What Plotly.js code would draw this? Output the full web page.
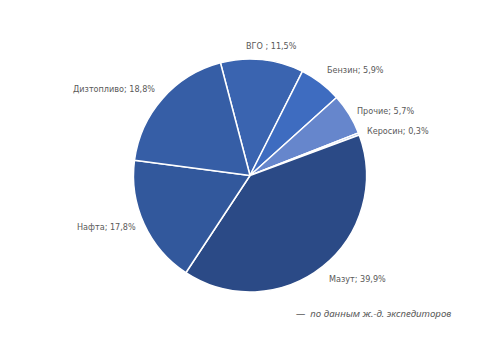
<!DOCTYPE html>
<html>
<head>
<meta charset="utf-8">
<script src="https://cdn.plot.ly/plotly-3.0.1.min.js"></script>
<style>html,body{margin:0;padding:0;background:#fff;}#chart{width:500px;height:353px;}</style>
</head>
<body>
<div id="chart"></div>
<script>
const categories = ["ВГО ", "Бензин", "Прочие", "Керосин", "Мазут", "Нафта", "Дизтопливо"];
const values = [11.5, 5.9, 5.7, 0.3, 39.9, 17.8, 18.8];
const valueLabels = ["11,5%", "5,9%", "5,7%", "0,3%", "39,9%", "17,8%", "18,8%"];
const colors = ["#3a64b0", "#3e6cc0", "#6686cc", "#a8bce6", "#2b4a86", "#32589c", "#365ea6"];
const source = "—  по данным ж.-д. экспедиторов";

// layout settings (not data)
const W = 500, H = 353;
const domX = [0.2, 0.8], domY = [0.1728, 0.8329];
const rotation = -14.7;
const labelGap = 7;
const labelTweak = [{xshift: 9}, {}, {}, {}, {}, {}, {yshift: -2}];
const textFont = {family: "DejaVu Sans Condensed, DejaVu Sans", size: 9, color: "#595959"};

const trace = {
  type: "pie",
  labels: categories,
  values: values,
  textinfo: "none",
  sort: false,
  direction: "clockwise",
  rotation: rotation,
  marker: {colors: colors, line: {color: "#ffffff", width: 1.5}},
  hoverinfo: "none",
  showlegend: false,
  automargin: false,
  domain: {x: domX, y: domY}
};

// label placement derived from the slice angles
const cx = (domX[0] + domX[1]) / 2 * W;
const cy = (1 - (domY[0] + domY[1]) / 2) * H;
const R = Math.min((domX[1] - domX[0]) * W, (domY[1] - domY[0]) * H) / 2;
const total = values.reduce((a, b) => a + b, 0);
let acc = 0;
const annotations = categories.map((cat, i) => {
  const mid = (rotation + (acc + values[i] / 2) / total * 360) * Math.PI / 180;
  acc += values[i];
  const s = Math.sin(mid), c = Math.cos(mid);
  const px = cx + s * (R + labelGap), py = cy - c * (R + labelGap);
  const t = labelTweak[i];
  return {
    text: cat + "; " + valueLabels[i],
    xref: "paper", yref: "paper", x: px / W, y: 1 - py / H,
    xanchor: t.xanchor || (s > 0.35 ? "left" : s < -0.35 ? "right" : "center"),
    yanchor: t.yanchor || (c > 0.55 ? "bottom" : c < -0.55 ? "top" : "middle"),
    xshift: t.xshift || 0, yshift: t.yshift || 0,
    showarrow: false, font: textFont
  };
});
annotations.push({
  text: "<i>" + source + "</i>",
  xref: "paper", yref: "paper", x: 0.906, y: 0.1133,
  xanchor: "right", yanchor: "middle", showarrow: false,
  font: {family: "Noto Sans", size: 9.7, color: "#595959"}
});

const layout = {
  width: W, height: H,
  margin: {l: 0, r: 0, t: 0, b: 0},
  paper_bgcolor: "#ffffff",
  showlegend: false,
  annotations: annotations
};

Plotly.newPlot("chart", [trace], layout, {displayModeBar: false, staticPlot: true});
</script>
</body>
</html>
